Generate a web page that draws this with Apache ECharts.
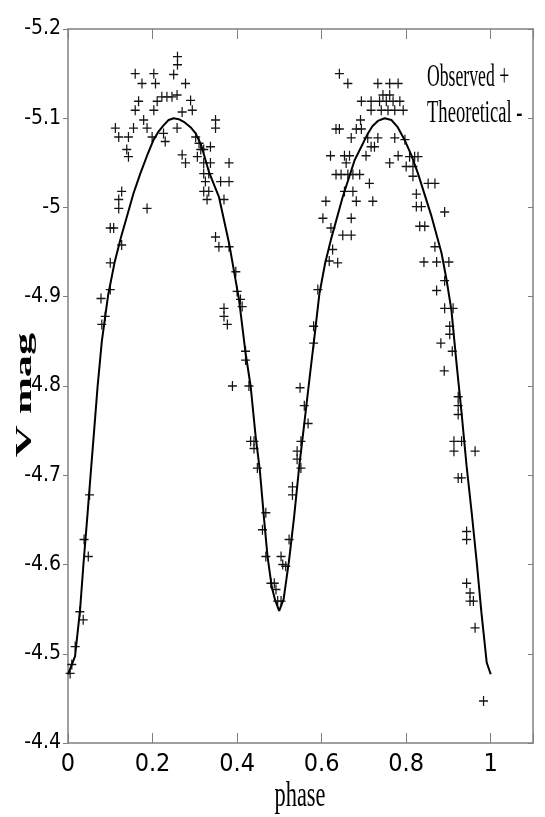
<!DOCTYPE html>
<html><head><meta charset="utf-8">
<script src="https://cdn.jsdelivr.net/npm/echarts@6/dist/echarts.min.js"></script>
<style>html,body{margin:0;padding:0;background:#fff}#c{width:545px;height:817px}</style>
</head><body><div id="c"></div>
<script>
// Observed points (phase, V mag)
const obsPhase = [
 0.259,0.259,0.159,0.203,0.250,0.175,0.207,0.278,0.167,0.211,
 0.222,0.234,0.246,0.258,0.290,0.159,0.203,0.294,0.270,0.179,
 0.349,0.112,0.155,0.187,0.226,0.258,0.349,0.120,0.143,0.199,
 0.230,0.302,0.310,0.139,0.143,0.270,0.314,0.321,0.337,0.278,
 0.306,0.321,0.337,0.381,0.321,0.333,0.361,0.381,0.325,0.127,
 0.321,0.333,0.120,0.329,0.369,0.120,0.187,0.100,0.108,0.349,
 0.127,0.357,0.381,0.100,0.397,
 0.100,0.078,0.088,0.080,0.051,0.038,0.048,0.028,0.036,0.017,0.009,0.005,
 0.400,0.408,0.412,0.369,0.369,0.377,0.420,0.420,0.389,0.428,
 0.432,0.440,0.440,0.448,0.468,0.460,0.468,0.504,0.508,0.480,
 0.488,0.492,0.504,0.496,0.515,0.523,
 0.531,0.531,0.542,0.542,0.551,0.551,0.568,0.559,0.549,0.581,0.581,
 0.642,0.662,0.733,0.761,0.781,0.694,0.717,0.737,0.753,0.769,
 0.785,0.745,0.761,0.717,0.741,0.757,0.773,0.692,0.634,0.642,
 0.682,0.694,0.670,0.709,0.733,0.773,0.717,0.725,0.621,0.654,
 0.666,0.705,0.781,0.761,0.658,0.634,0.646,0.662,0.674,0.690,
 0.713,0.654,0.674,0.610,0.682,0.721,0.603,0.670,0.622,0.650,
 0.670,0.626,0.618,0.638,0.591,
 0.793,0.797,0.808,0.820,0.828,0.800,0.816,0.816,0.852,0.868,
 0.824,0.824,0.836,0.891,0.832,0.844,0.868,0.842,0.872,0.901,
 0.891,0.872,
 0.891,0.911,0.903,0.903,0.882,0.909,0.890,0.923,0.923,0.923,
 0.913,0.931,0.913,0.963,0.923,0.931,0.943,0.943,0.943,0.951,
 0.959,0.951,0.963,0.983
];
const obsMag = [
 -5.169,-5.160,-5.150,-5.150,-5.149,-5.139,-5.139,-5.139,-5.119,-5.119,
 -5.124,-5.124,-5.124,-5.126,-5.120,-5.109,-5.109,-5.109,-5.107,-5.098,
 -5.098,-5.089,-5.089,-5.089,-5.083,-5.089,-5.089,-5.079,-5.079,-5.079,
 -5.074,-5.079,-5.072,-5.065,-5.057,-5.059,-5.065,-5.065,-5.068,-5.050,
 -5.057,-5.050,-5.050,-5.050,-5.038,-5.038,-5.029,-5.029,-5.029,-5.018,
 -5.018,-5.018,-5.009,-5.009,-5.009,-4.999,-4.999,-4.977,-4.977,-4.967,
 -4.958,-4.956,-4.956,-4.938,-4.928,
 -4.908,-4.898,-4.878,-4.869,-4.678,-4.628,-4.609,-4.547,-4.538,-4.508,-4.488,-4.478,
 -4.906,-4.897,-4.889,-4.887,-4.878,-4.869,-4.839,-4.829,-4.800,-4.800,
 -4.738,-4.738,-4.730,-4.708,-4.658,-4.639,-4.609,-4.609,-4.600,-4.579,
 -4.579,-4.572,-4.559,-4.559,-4.598,-4.628,
 -4.687,-4.678,-4.727,-4.718,-4.738,-4.708,-4.758,-4.778,-4.798,-4.848,-4.867,
 -5.150,-5.139,-5.139,-5.139,-5.139,-5.119,-5.119,-5.119,-5.119,-5.119,
 -5.119,-5.126,-5.126,-5.109,-5.109,-5.109,-5.109,-5.098,-5.088,-5.088,
 -5.088,-5.088,-5.078,-5.078,-5.078,-5.078,-5.068,-5.068,-5.058,-5.058,
 -5.058,-5.058,-5.058,-5.050,-5.050,-5.037,-5.037,-5.037,-5.037,-5.037,
 -5.027,-5.018,-5.018,-5.007,-5.007,-5.007,-4.988,-4.988,-4.977,-4.969,
 -4.969,-4.953,-4.940,-4.938,-4.908,
 -5.109,-5.076,-5.057,-5.057,-5.057,-5.046,-5.046,-5.035,-5.027,-5.027,
 -5.015,-5.001,-5.001,-4.995,-4.979,-4.979,-4.956,-4.939,-4.939,-4.939,
 -4.918,-4.907,
 -4.887,-4.887,-4.867,-4.858,-4.848,-4.839,-4.817,-4.788,-4.778,-4.768,
 -4.738,-4.738,-4.727,-4.727,-4.697,-4.697,-4.637,-4.628,-4.579,-4.568,
 -4.559,-4.559,-4.529,-4.447
];
// Theoretical light curve
const theoPhase = [
 0.0000,0.0166,0.0285,0.0368,0.0451,0.0534,0.0618,0.0701,0.0800,0.0950,0.1100,0.1250,0.1394,0.1550,0.1710,0.1870,0.2026,
 0.2140,0.2260,0.2380,0.2500,0.2620,0.2740,0.2898,0.3020,0.3150,0.3333,
 0.3570,0.3810,0.4045,0.4200,0.4320,0.4440,0.4537,0.4640,0.4720,0.4820,0.4900,0.4996,
 0.5100,0.5230,0.5350,0.5470,0.5590,0.5710,0.5830,0.5946,0.6080,0.6220,
 0.6500,0.6780,0.7095,0.7200,0.7330,0.7490,0.7650,0.7800,0.7960,0.8120,0.8280,
 0.8600,0.8836,0.8955,0.9070,0.9190,0.9310,0.9430,0.9550,0.9670,0.9780,0.9905,1.0000
];
const theoMag = [
 -4.477,-4.497,-4.549,-4.602,-4.650,-4.700,-4.750,-4.800,-4.850,-4.902,-4.938,-4.966,-4.990,-5.016,-5.038,-5.058,-5.076,
 -5.085,-5.092,-5.098,-5.100,-5.099,-5.096,-5.090,-5.083,-5.070,-5.040,
 -5.012,-4.960,-4.897,-4.837,-4.800,-4.743,-4.706,-4.650,-4.609,-4.575,-4.560,-4.548,
 -4.561,-4.605,-4.654,-4.710,-4.758,-4.807,-4.855,-4.903,-4.937,-4.964,
 -5.012,-5.053,-5.083,-5.091,-5.097,-5.100,-5.098,-5.090,-5.076,-5.059,-5.038,
 -4.990,-4.949,-4.919,-4.885,-4.826,-4.770,-4.710,-4.658,-4.602,-4.546,-4.490,-4.477
];
const xTickLabels = ['0','0.2','0.4','0.6','0.8','1'];
const yTickLabels = ['-5.2','-5.1','-5','-4.9','-4.8','-4.7','-4.6','-4.5','-4.4'];
const legendLines = ['Observed +','Theoretical -'];
const xTitle = 'phase';
const yTitle = 'V mag';

const tickFont = "'Liberation Sans Narrow','DejaVu Sans Condensed','Liberation Sans',Arial,sans-serif";
const axisGray = '#808080';

function pairs(xs, ys){ const n=Math.min(xs.length, ys.length); const out=[]; for(let i=0;i<n;i++) out.push([xs[i], ys[i]]); return out; }
const fmt = v => String(Math.round(v*10)/10);

const baseX = { type:'value', min:0, max:1.1, interval:0.2, splitLine:{show:false},
  axisLine:{show:true, onZero:false, lineStyle:{color:axisGray, width:1.5}} };
const baseY = { type:'value', inverse:true, min:-5.2, max:-4.4, interval:0.1, splitLine:{show:false},
  axisLine:{show:true, onZero:false, lineStyle:{color:axisGray, width:1.5}} };

const chart = echarts.init(document.getElementById('c'), null, {renderer:'canvas'});
chart.setOption({
  animation:false,
  backgroundColor:'#fff',
  grid:{left:68, right:12, top:29, bottom:74, containLabel:false, outerBoundsMode:'none'},
  xAxis:[
    Object.assign({}, baseX, {position:'bottom',
      axisTick:{show:true, inside:true, length:10, lineStyle:{color:axisGray, width:1}},
      axisLabel:{show:true, margin:9, color:'#000', fontSize:25, fontFamily:tickFont,
        formatter: v => { const s=fmt(v); return xTickLabels.includes(s)? s : ''; }}}),
    Object.assign({}, baseX, {position:'top',
      axisTick:{show:true, inside:true, length:10, lineStyle:{color:axisGray, width:1}},
      axisLabel:{show:false}})
  ],
  yAxis:[
    Object.assign({}, baseY, {position:'left',
      axisTick:{show:true, inside:false, length:5, lineStyle:{color:axisGray, width:1}},
      axisLabel:{show:true, margin:7, color:'#000', fontSize:21, fontFamily:tickFont,
        formatter: v => { const s=fmt(v); return yTickLabels.includes(s)? s : ''; }}}),
    Object.assign({}, baseY, {position:'right',
      axisTick:{show:true, inside:true, length:5, lineStyle:{color:axisGray, width:1}},
      axisLabel:{show:false}})
  ],
  series:[
    { name:'Observed', type:'scatter', xAxisIndex:0, yAxisIndex:0,
      data: pairs(obsPhase, obsMag),
      symbol:'path://M4.5,0L4.5,10M0,5L9,5', symbolSize:[9,10], symbolKeepAspect:false,
      itemStyle:{color:'none', borderColor:'#151515', borderWidth:1.3, opacity:1},
      emphasis:{disabled:true}, z:2 },
    { name:'Theoretical', type:'line', xAxisIndex:0, yAxisIndex:0,
      data: pairs(theoPhase, theoMag), showSymbol:false, symbol:'none', smooth:false,
      lineStyle:{color:'#000', width:2}, emphasis:{disabled:true}, z:3 }
  ],
  graphic:[
    { type:'text', x:427, y:62, scaleX:0.57, z:10,
      style:{text:legendLines[0], font:"31px 'Liberation Serif', serif", fill:'#000', textAlign:'left', textVerticalAlign:'top'} },
    { type:'text', x:427, y:98, scaleX:0.6, z:10,
      style:{text:legendLines[1], font:"31px 'Liberation Serif', serif", fill:'#000', textAlign:'left', textVerticalAlign:'top'} },
    { type:'text', x:300, y:779, scaleX:0.64, z:10,
      style:{text:xTitle, font:"35px 'Liberation Serif', serif", fill:'#000', textAlign:'center', textVerticalAlign:'top'} },
    { type:'text', x:25, y:395, rotation:Math.PI/2, scaleX:1.85, z:10,
      style:{text:yTitle, font:"bold 24px 'Liberation Serif', serif", fill:'#000', textAlign:'center', textVerticalAlign:'middle'} }
  ]
});
</script>
</body></html>
